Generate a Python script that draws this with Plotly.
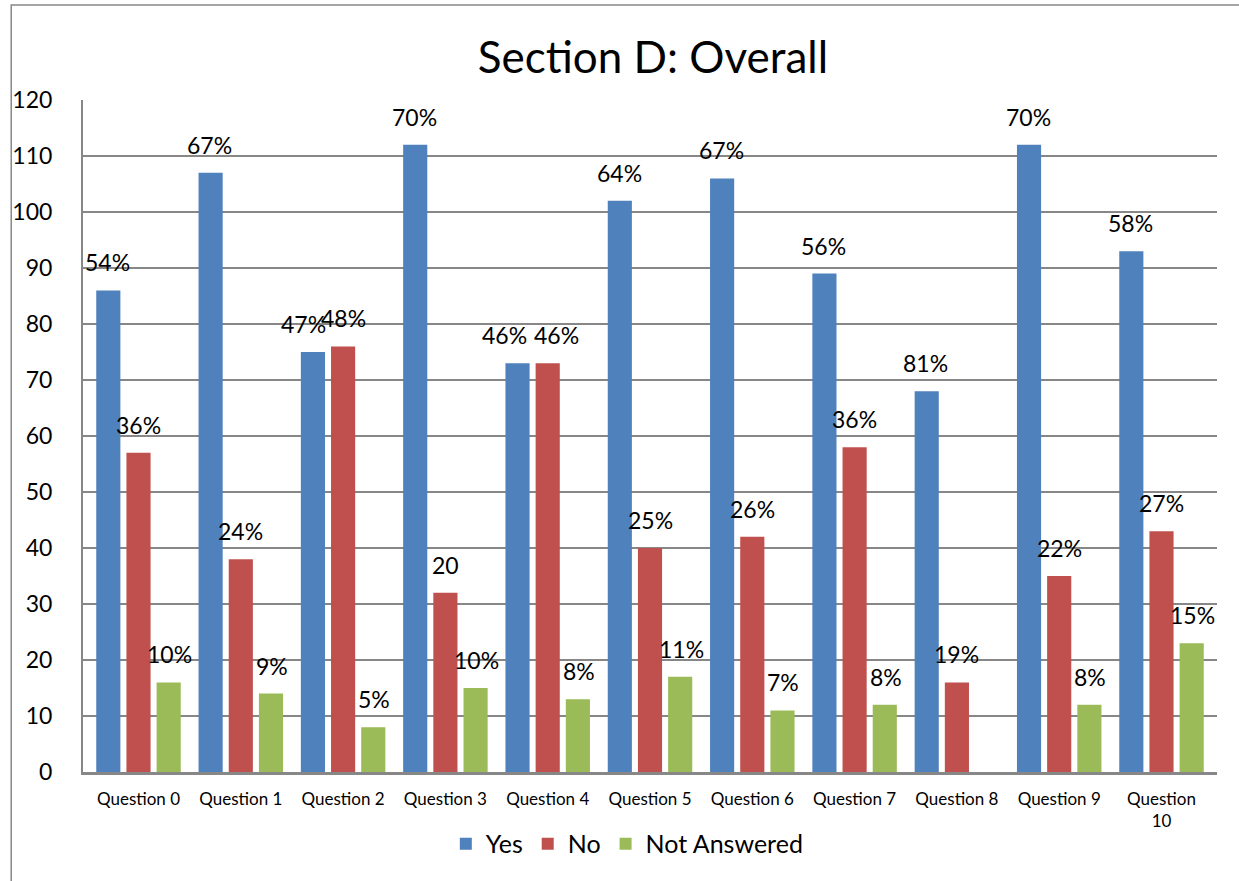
import plotly.graph_objects as go

categories = ["Question 0", "Question 1", "Question 2", "Question 3", "Question 4",
              "Question 5", "Question 6", "Question 7", "Question 8", "Question 9",
              "Question<br>10"]
yes_vals = [86, 107, 75, 112, 73, 102, 106, 89, 68, 112, 93]
no_vals = [57, 38, 76, 32, 73, 40, 42, 58, 16, 35, 43]
na_vals = [16, 14, 8, 15, 13, 17, 11, 12, 0, 12, 23]
yes_labels = ["54%", "67%", "47%", "70%", "46%", "64%", "67%", "56%", "81%", "70%", "58%"]
no_labels = ["36%", "24%", "48%", "20", "46%", "25%", "26%", "36%", "19%", "22%", "27%"]
na_labels = ["10%", "9%", "5%", "10%", "8%", "11%", "7%", "8%", "", "8%", "15%"]
y_ticks = [0, 10, 20, 30, 40, 50, 60, 70, 80, 90, 100, 110, 120]

FONT = "Lato"
colors = ["#4F81BD", "#C0504D", "#9BBB59"]
series = [("Yes", yes_vals, yes_labels), ("No", no_vals, no_labels),
          ("Not Answered", na_vals, na_labels)]

fig = go.Figure()
for (name, vals, _), c in zip(series, colors):
    fig.add_trace(go.Bar(x=categories, y=vals, name=name, marker_color=c,
                         marker_line_width=0))

# label x-offsets (pixels from group centre); a few moved as in the original
shifts = [-31, 0, 31]
special_shift = {(0, 2): -40, (0, 4): -43, (1, 4): 9}

annotations = []
for si, ((name, vals, labels), dx) in enumerate(zip(series, shifts)):
    for ci, (cat, v, lab) in enumerate(zip(categories, vals, labels)):
        if not lab:
            continue
        annotations.append(dict(x=cat, y=v, xref="x", yref="y", text=lab,
                                showarrow=False,
                                xshift=special_shift.get((si, ci), dx), yshift=28,
                                yanchor="middle",
                                font=dict(family=FONT, size=23, color="#000")))

fig.update_layout(
    width=1239, height=881,
    paper_bgcolor="white", plot_bgcolor="white",
    margin=dict(l=80, r=22, t=100, b=109),
    barmode="group", bargap=0.115, bargroupgap=0.2,
    title=dict(text="Section D: Overall", x=0.527, y=0.935, xanchor="center",
               yanchor="middle", font=dict(family=FONT, size=44, color="#000")),
    legend=dict(orientation="h", x=0.48, y=-0.107, xanchor="center", yanchor="middle",
                font=dict(family=FONT, size=25, color="#000"), itemwidth=30,
                traceorder="normal"),
    annotations=annotations,
    showlegend=True,
    shapes=[dict(type="rect", xref="paper", yref="paper", x0=-0.0633, x1=1.03,
                 y0=-0.18, y1=1.1414, line=dict(color="#888888", width=1.5),
                 layer="below")],
)
fig.update_yaxes(range=[0, 120], tickvals=y_ticks, showgrid=True, gridcolor="#878787",
                 gridwidth=1.5, showline=True, linecolor="#878787", linewidth=2,
                 ticks="", ticklabelstandoff=24, zeroline=False,
                 tickfont=dict(family=FONT, size=23, color="#000"))
fig.update_xaxes(showline=True, linecolor="#878787", linewidth=2.5, ticks="",
                 ticklabelstandoff=10,
                 tickfont=dict(family=FONT, size=17, color="#000"))

fig.write_html("out.html", config={"displayModeBar": False},
               post_script="document.body.style.margin='0';"
                           "document.body.style.overflow='hidden';")
